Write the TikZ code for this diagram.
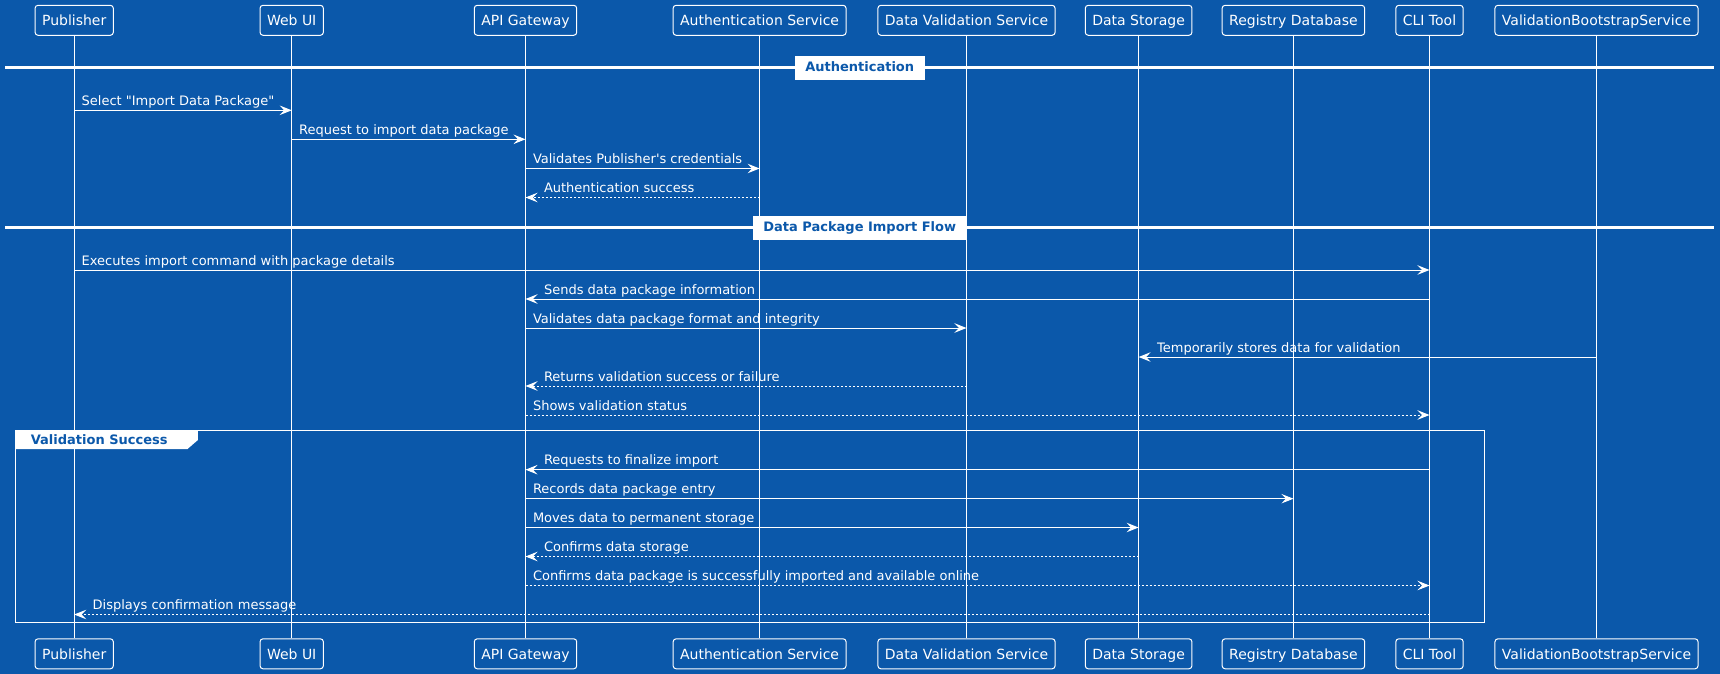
\documentclass[tikz,border=0pt]{standalone}
\usepackage{fontspec}
\newfontfamily\dv{DejaVu Sans}
\usetikzlibrary{arrows.meta}
\definecolor{bg}{HTML}{0B58AA}
\newcommand\msgto[5]{\draw[#4] (#1 |- 0,#3) -- node[lbl,pos=0,anchor=base west,xshift=7pt,yshift=5pt]{#5} (#2 |- 0,#3);}
\newcommand\msgfrom[5]{\draw[#4] (#1 |- 0,#3) -- node[lbl,pos=1,anchor=base west,xshift=18pt,yshift=5pt]{#5} (#2 |- 0,#3);}
\begin{document}
\begin{tikzpicture}[x=1pt,y=-1pt,
  part/.style={draw=white, line width=1pt, rounded corners=3pt, fill=bg, text=white,
    font=\dv\fontsize{14}{16}\selectfont, minimum height=30pt, inner xsep=7pt, inner ysep=0pt,
    text height=13pt, text depth=2pt},
  life/.style={draw=white, line width=1pt},
  msg/.style={draw=white, line width=1pt, -{Stealth[length=12pt,width=9.5pt,inset=4.5pt]}},
  ret/.style={msg, dash pattern=on 2pt off 2pt},
  lbl/.style={text=white, font=\dv\fontsize{13}{15}\selectfont, inner sep=0pt},
  sepline/.style={draw=white, line width=3pt},
  seplbl/.style={fill=white, draw=white, text=bg, font=\dv\bfseries\fontsize{13}{15}\selectfont,
    minimum height=23pt, inner xsep=10pt, inner ysep=0pt, text height=9.5pt, text depth=1pt},
  grp/.style={draw=white, line width=1pt},
  grplbl/.style={text=bg, font=\dv\bfseries\fontsize{13}{15}\selectfont, inner sep=0pt}
]
\useasboundingbox (0,0) rectangle (1720,674);
\fill[bg] (0,0) rectangle (1720,674);

% participants (top)
\node[part] (pub)  at (74.2,20.3)   {Publisher};
\node[part] (web)  at (291.7,20.3)  {Web UI};
\node[part] (api)  at (525.5,20.3)  {API Gateway};
\node[part] (auth) at (759.6,20.3)  {Authentication Service};
\node[part] (dvs)  at (966.5,20.3)  {Data Validation Service};
\node[part] (ds)   at (1138.6,20.3) {Data Storage};
\node[part] (reg)  at (1293.4,20.3) {Registry Database};
\node[part] (cli)  at (1429.5,20.3) {CLI Tool};
\node[part] (vbs)  at (1596.5,20.3) {ValidationBootstrapService};
% participants (bottom)
\node[part] (pubB)  at (74.2,653.8)   {Publisher};
\node[part] (webB)  at (291.7,653.8)  {Web UI};
\node[part] (apiB)  at (525.5,653.8)  {API Gateway};
\node[part] (authB) at (759.6,653.8)  {Authentication Service};
\node[part] (dvsB)  at (966.5,653.8)  {Data Validation Service};
\node[part] (dsB)   at (1138.6,653.8) {Data Storage};
\node[part] (regB)  at (1293.4,653.8) {Registry Database};
\node[part] (cliB)  at (1429.5,653.8) {CLI Tool};
\node[part] (vbsB)  at (1596.5,653.8) {ValidationBootstrapService};

% lifelines
\foreach \p in {pub,web,api,auth,dvs,ds,reg,cli,vbs}
  \draw[life] (\p.south) -- (\p B.north);

% separators
\draw[sepline] (5,68) -- (1714,68);
\node[seplbl] (sep1) at (859.7,67.7) {Authentication};
\draw[sepline] (5,227) -- (1714,227);
\node[seplbl] (sep2) at (859.7,227.2) {Data Package Import Flow};

% group
\draw[grp] (15.3,430.3) rectangle (1484.7,622.3);
\fill[white] (15.3,430.3) -- (197.9,430.3) -- (197.9,440) -- (187.5,449) -- (15.3,449) -- cycle;
\node[grplbl, anchor=base west] (grpl) at (30.6,444.3) {Validation Success};

% messages
\msgto{pub}{web}{110.3}{msg}{Select "Import Data Package"}
\msgto{web}{api}{139.3}{msg}{Request to import data package}
\msgto{api}{auth}{168.5}{msg}{Validates Publisher's credentials}
\msgfrom{auth}{api}{197.5}{ret}{Authentication success}
\msgto{pub}{cli}{270}{msg}{Executes import command with package details}
\msgfrom{cli}{api}{299}{msg}{Sends data package information}
\msgto{api}{dvs}{328}{msg}{Validates data package format and integrity}
\msgfrom{vbs}{ds}{357}{msg}{Temporarily stores data for validation}
\msgfrom{dvs}{api}{386}{ret}{Returns validation success or failure}
\msgto{api}{cli}{415}{ret}{Shows validation status}
\msgfrom{cli}{api}{469.7}{msg}{Requests to finalize import}
\msgto{api}{reg}{498.7}{msg}{Records data package entry}
\msgto{api}{ds}{527.5}{msg}{Moves data to permanent storage}
\msgfrom{ds}{api}{556.5}{ret}{Confirms data storage}
\msgto{api}{cli}{585.5}{ret}{Confirms data package is successfully imported and available online}
\msgfrom{cli}{pub}{614.5}{ret}{Displays confirmation message}
\end{tikzpicture}
\end{document}
